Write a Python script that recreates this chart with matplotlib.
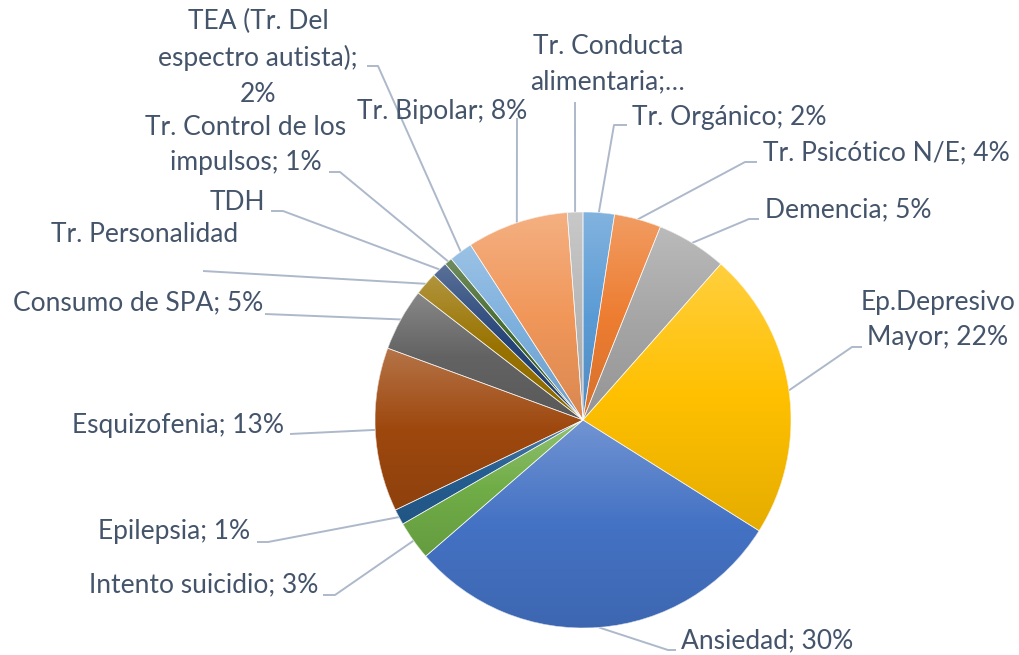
import numpy as np
import matplotlib
matplotlib.use('Agg')
import matplotlib.pyplot as plt
from matplotlib.patches import Wedge
from matplotlib.colors import to_rgb

# ---------------- data ----------------
categories = ["Tr. Orgánico", "Tr. Psicótico N/E", "Demencia", "Ep.Depresivo Mayor", "Ansiedad",
              "Intento suicidio", "Epilepsia", "Esquizofenia", "Consumo de SPA", "Tr. Personalidad",
              "TDH", "Tr. Control de los impulsos", "TEA (Tr. Del espectro autista)", "Tr. Bipolar",
              "Tr. Conducta alimentaria"]
values = [4, 6, 9, 37, 49, 5, 2, 21, 8, 3, 2, 1, 3, 13, 2]
label_texts = ["Tr. Orgánico; 2%", "Tr. Psicótico N/E; 4%", "Demencia; 5%", "Ep.Depresivo\nMayor; 22%",
               "Ansiedad; 30%", "Intento suicidio; 3%", "Epilepsia; 1%", "Esquizofenia; 13%",
               "Consumo de SPA; 5%", "Tr. Personalidad", "TDH", "Tr. Control de los\nimpulsos; 1%",
               "TEA (Tr. Del\nespectro autista);\n2%", "Tr. Bipolar; 8%", "Tr. Conducta\nalimentaria;…"]

# ---------------- style ----------------
colors = ["#5B9BD5", "#ED7D31", "#A5A5A5", "#FFC000", "#4472C4", "#70AD47", "#255E91", "#9E480E",
          "#636363", "#997300", "#264478", "#43682B", "#7CAFDD", "#F1975A", "#B7B7B7"]
TEXT_COLOR = "#44546A"
LINE_COLOR = "#ADB9CA"
FONT = ["Lato", "DejaVu Sans"]
FS = 19

W, H = 1019, 655
CX, CY, R = 583, H - 420, 208

# label layout in pixel coords (y down): leader knees, text anchor, alignment
layout = [
    ([(614, 125), (627, 125)], (632, 117), 'left'),
    ([(745, 162), (757, 162)], (763, 153), 'left'),
    ([(749, 219), (759, 219)], (765, 210), 'left'),
    ([(852, 347), (862, 347)], (938, 320), 'center'),
    ([(668, 650), (676, 650)], (681, 641), 'left'),
    ([(335, 595), (323, 595)], (318, 585), 'right'),
    ([(268, 542), (257, 542)], (250, 532), 'right'),
    ([(290, 434)], (284, 425), 'right'),
    ([(265, 314)], (263, 303), 'right'),
    ([(203, 271)], (145, 235), 'center'),
    ([(283, 211), (271, 211)], (265, 202), 'right'),
    ([(340, 172), (329, 172)], (246, 145), 'center'),
    ([(378, 66), (367, 66)], (258, 58), 'center'),
    ([(517, 118)], (527, 112), 'right'),
    ([(575, 102)], (608, 64), 'center'),
]

fig = plt.figure(figsize=(W / 100, H / 100), dpi=100)
ax = fig.add_axes([0, 0, 1, 1])

wedges, _ = ax.pie(values, colors=colors, startangle=90, counterclock=False,
                   center=(CX, CY), radius=R, wedgeprops=dict(linewidth=0), frame=True)

# gradient fill for each wedge (Excel-like)
for w, c in zip(wedges, colors):
    th = np.deg2rad(np.linspace(w.theta1, w.theta2, 300))
    xs = np.concatenate([[w.center[0]], w.center[0] + w.r * np.cos(th)])
    ys = np.concatenate([[w.center[1]], w.center[1] + w.r * np.sin(th)])
    x0, x1, y0, y1 = xs.min(), xs.max(), ys.min(), ys.max()
    base = np.array(to_rgb(c))
    top = base + (1 - base) * 0.24
    bot = base * 0.90
    t = np.linspace(0, 1, 256)[:, None]
    grad = np.where(t < 0.5, top + (base - top) * (t / 0.5), base + (bot - base) * ((t - 0.5) / 0.5))
    img = np.repeat(grad[:, None, :], 2, axis=1)
    im = ax.imshow(img, extent=[x0, max(x1, x0 + 1), y0, max(y1, y0 + 1)], origin='upper',
                   aspect='auto', interpolation='bilinear', zorder=2)
    im.set_clip_path(w)
    ax.add_patch(Wedge(w.center, w.r, w.theta1, w.theta2, facecolor='none',
                       edgecolor='white', linewidth=0.5, alpha=0.8, zorder=3))

# leader lines and labels
for w, txt, (knees, (tx, ty), ha) in zip(wedges, label_texts, layout):
    mid = np.deg2rad((w.theta1 + w.theta2) / 2)
    sx = w.center[0] + w.r * np.cos(mid)
    sy = w.center[1] + w.r * np.sin(mid)
    px = [sx] + [k[0] for k in knees]
    py = [sy] + [H - k[1] for k in knees]
    ax.plot(px, py, color=LINE_COLOR, lw=1.4, zorder=1, solid_capstyle='butt')
    ax.text(tx, H - ty, txt, ha=ha, va='center', multialignment='center', fontsize=FS,
            color=TEXT_COLOR, family=FONT, linespacing=1.52)

ax.set_xlim(0, W)
ax.set_ylim(0, H)
ax.set_aspect('auto')
ax.axis('off')
fig.savefig("out.png", dpi=100, facecolor='white')
